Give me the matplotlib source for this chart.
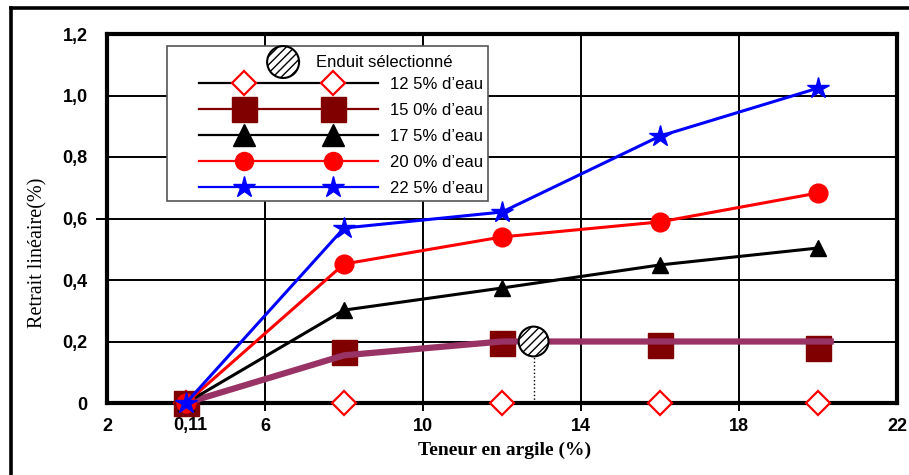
import matplotlib
matplotlib.use('Agg')
import matplotlib.pyplot as plt
from matplotlib.lines import Line2D
from matplotlib.patches import Circle
from matplotlib.text import Text
from matplotlib.legend_handler import HandlerBase

# data
argile = [4, 8, 12, 16, 20]
eau_125 = [0, 0, 0, 0, 0]
eau_150 = [0, 0.166, 0.195, 0.19, 0.18]
eau_175 = [0, 0.302, 0.374, 0.449, 0.504]
eau_200 = [0, 0.452, 0.540, 0.589, 0.683]
eau_225 = [0, 0.569, 0.621, 0.868, 1.024]

enduit_x = [4, 8, 12, 16, 20.4]
enduit_y = [0, 0.155, 0.2, 0.2, 0.2]
selection_x = [12.8]
selection_y = [0.2]

series_labels = ['12 5% d’eau', '15 0% d’eau', '17 5% d’eau', '20 0% d’eau', '22 5% d’eau']
enduit_label = 'Enduit sélectionné'
xtick_vals = [2, 6, 10, 14, 18, 22]
ytick_vals = [0, 0.2, 0.4, 0.6, 0.8, 1.0, 1.2]
ytick_labels = ['0', '0,2', '0,4', '0,6', '0,8', '1,0', '1,2']

W, H = 909, 475
fig = plt.figure(figsize=(W / 100, H / 100), dpi=100)
ax = fig.add_axes([107 / W, 1 - 403 / H, 790 / W, 369 / H])

ax.set_xlim(2, 22)
ax.set_ylim(0, 1.2)
ax.set_xticks(xtick_vals)
ax.set_xticklabels([str(v) for v in xtick_vals])
ax.set_yticks(ytick_vals)
ax.set_yticklabels(ytick_labels)
ax.grid(True, color='black', lw=1.4, zorder=0)
ax.set_axisbelow(True)
for s in ax.spines.values():
    s.set_linewidth(3)
ax.tick_params(axis='x', direction='out', length=6, width=1.4, pad=5,
               labelsize=13)
ax.tick_params(axis='y', direction='out', length=8, width=1.4, pad=6,
               labelsize=13)
for lab in ax.get_xticklabels() + ax.get_yticklabels():
    lab.set_fontweight('bold')
    lab.set_fontfamily('Liberation Sans')
# only a few tick marks are visible in the original
xt = ax.xaxis.get_major_ticks()
xt[0].tick1line.set_visible(False)
xt[-1].tick1line.set_visible(False)
for i, t in enumerate(ax.yaxis.get_major_ticks()):
    if i != 3:
        t.tick1line.set_visible(False)

ax.text(4.1, -0.045, '0,11', transform=ax.transData, ha='center', va='top',
        fontsize=13, fontweight='bold', family='Liberation Sans')

l125, = ax.plot(argile, eau_125, color='black', lw=2, marker='D', ms=12.5,
                mfc='white', mec='red', mew=1.6, zorder=3, clip_on=False)
l150, = ax.plot(argile, eau_150, color='#800000', linestyle='none',
                marker='s', ms=18, mfc='#800000', mec='#800000', mew=1,
                zorder=3, clip_on=False)
ax.plot(enduit_x, enduit_y, color='#993366', lw=4.5, zorder=4,
        solid_capstyle='butt', clip_on=False)
l175, = ax.plot(argile, eau_175, color='black', lw=2.2, marker='^', ms=12,
                mfc='black', mec='black', zorder=5, clip_on=False)
l200, = ax.plot(argile, eau_200, color='red', lw=2.2, marker='o', ms=13.5,
                mfc='red', mec='red', zorder=5, clip_on=False)
l225, = ax.plot(argile, eau_225, color='blue', lw=2.2, marker='*', ms=16,
                mfc='blue', mec='blue', zorder=5, clip_on=False)

ax.vlines(selection_x, 0, selection_y, color='black', lw=1, linestyles=':',
          zorder=5)
plt.rcParams['hatch.linewidth'] = 1.0
sel = ax.scatter(selection_x, selection_y, s=460, marker='o', facecolor='white',
                 edgecolor='black', linewidth=1.5, hatch='////', zorder=6)


class RowHandler(HandlerBase):
    def __init__(self, lead, ms):
        super().__init__()
        self.lead = lead
        self.ms = ms

    def create_artists(self, legend, orig, xdescent, ydescent, width, height,
                       fontsize, trans):
        x0 = -xdescent + self.lead
        x1 = -xdescent + width
        y = -ydescent + height / 2
        span = x1 - x0
        line = Line2D([x0, x1], [y, y], color=orig.get_color(), lw=1.6,
                      transform=trans)
        pts = Line2D([x0 + 0.25 * span, x0 + 0.75 * span], [y, y],
                     linestyle='none', marker=orig.get_marker(),
                     markersize=self.ms,
                     markerfacecolor=orig.get_markerfacecolor(),
                     markeredgecolor=orig.get_markeredgecolor(),
                     markeredgewidth=orig.get_markeredgewidth(),
                     transform=trans)
        return [line, pts]


class EnduitHandler(HandlerBase):
    def create_artists(self, legend, orig, xdescent, ydescent, width, height,
                       fontsize, trans):
        y = -ydescent + height / 2 - 3.5
        cx = -xdescent + 80
        circ = Circle((cx, y), 11.5, facecolor='white', edgecolor='black',
                      lw=1.5, hatch='////', transform=trans)
        txt = Text(cx + 24, y, enduit_label, ha='left', va='center',
                   fontsize=fontsize, family='Liberation Sans', transform=trans)
        return [circ, txt]


handles = [sel, l125, l150, l175, l200, l225]
labels = [' '] + series_labels
hmap = {
    sel: EnduitHandler(),
    l125: RowHandler(19.4, 12.5),
    l150: RowHandler(19.4, 18),
    l175: RowHandler(19.4, 16),
    l200: RowHandler(19.4, 13),
    l225: RowHandler(19.4, 16),
}
leg = ax.legend(handles, labels, handler_map=hmap, loc='upper left',
                bbox_to_anchor=((167 - 107) / 790, (403 - 46) / 369),
                borderaxespad=0, borderpad=0.3, handlelength=12.36,
                handletextpad=0.72, labelspacing=0.66, fancybox=False,
                framealpha=1, edgecolor='#555555',
                prop={'family': 'Liberation Sans', 'size': 12})
leg.get_frame().set_linewidth(1.2)
leg.set_zorder(10)

fig.text(38 / W, 1 - 253 / H, 'Retrait linéaire(%)', rotation=90,
         ha='center', va='center', family='Liberation Serif', fontsize=14.5)
fig.text(505 / W, 1 - 455 / H, 'Teneur en argile (%)', ha='center',
         va='baseline', family='Liberation Serif', fontweight='bold',
         fontsize=14)

# outer frame (left and top edges visible)
fig.add_artist(Line2D([11 / W, 11 / W], [-0.02, 1 - 8 / H], color='black',
                      lw=2.6, transform=fig.transFigure))
fig.add_artist(Line2D([11 / W, 1.02], [1 - 8 / H, 1 - 8 / H], color='black',
                      lw=2.6, transform=fig.transFigure))

fig.savefig('out.png', dpi=100)
